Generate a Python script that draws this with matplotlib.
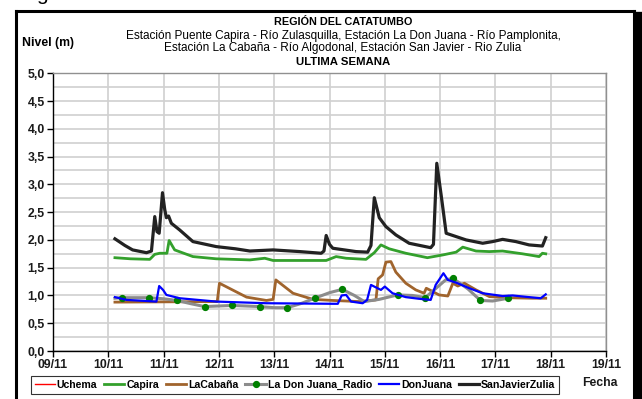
import matplotlib
matplotlib.use('Agg')
import matplotlib.pyplot as plt
from matplotlib.lines import Line2D
from matplotlib.ticker import MultipleLocator, FixedLocator

plt.rcParams['font.family'] = ['Liberation Sans', 'DejaVu Sans']

# days counted from 09/11
DAY_LABELS = ['09/11', '10/11', '11/11', '12/11', '13/11', '14/11',
              '15/11', '16/11', '17/11', '18/11', '19/11']
LEVEL_TICKS = [i * 0.5 for i in range(11)]

sanjavier_x = [1.12, 1.30, 1.44, 1.69, 1.78, 1.84, 1.88, 1.92, 1.98, 2.02,
               2.05, 2.09, 2.14, 2.29, 2.53, 2.95, 3.30, 3.56, 3.98, 4.46,
               4.85, 4.90, 4.94, 5.00, 5.06, 5.48, 5.69, 5.75, 5.81, 5.90,
               6.02, 6.20, 6.44, 6.83, 6.88, 6.94, 7.02, 7.11, 7.29, 7.47,
               7.77, 7.95, 8.13, 8.37, 8.61, 8.85, 8.91]
sanjavier_y = [2.02, 1.90, 1.82, 1.77, 1.80, 2.42, 2.15, 2.12, 2.85, 2.55,
               2.40, 2.43, 2.30, 2.18, 1.97, 1.88, 1.84, 1.80, 1.82, 1.79,
               1.76, 1.80, 2.08, 1.92, 1.85, 1.79, 1.78, 1.90, 2.76, 2.40,
               2.24, 2.09, 1.94, 1.86, 1.92, 3.38, 2.80, 2.12, 2.06, 2.00,
               1.94, 1.97, 2.01, 1.97, 1.91, 1.89, 2.04]

capira_x = [1.12, 1.40, 1.75, 1.84, 1.93, 2.06, 2.10, 2.20, 2.53, 2.95,
            3.56, 3.83, 3.98, 4.94, 5.12, 5.30, 5.66, 5.81, 5.93, 6.08,
            6.38, 6.77, 7.05, 7.29, 7.41, 7.65, 7.89, 8.13, 8.49, 8.79,
            8.85, 8.91]
capira_y = [1.68, 1.66, 1.65, 1.74, 1.76, 1.76, 1.99, 1.82, 1.70, 1.66,
            1.64, 1.67, 1.63, 1.63, 1.70, 1.67, 1.65, 1.77, 1.91, 1.84,
            1.76, 1.68, 1.73, 1.78, 1.87, 1.80, 1.79, 1.80, 1.75, 1.70,
            1.76, 1.75]

cabana_x = [1.12, 2.97, 3.01, 3.50, 3.86, 3.98, 4.03, 4.34, 4.70, 5.06,
            5.54, 5.84, 5.88, 5.96, 6.02, 6.11, 6.20, 6.38, 6.56, 6.71,
            6.75, 6.83, 6.98, 7.14, 7.23, 7.32, 7.44, 7.65, 7.89, 8.19,
            8.67, 8.91]
cabana_y = [0.88, 0.89, 1.22, 0.97, 0.91, 0.93, 1.28, 1.04, 0.93, 0.91,
            0.89, 0.92, 1.30, 1.37, 1.60, 1.61, 1.42, 1.22, 1.10, 1.04,
            1.13, 1.09, 1.01, 0.99, 1.22, 1.17, 1.22, 1.10, 0.98, 0.96,
            0.95, 0.95]

donjuana_x = [1.12, 1.33, 1.87, 1.92, 1.99, 2.05, 2.29, 2.95, 3.86, 5.06,
              5.15, 5.22, 5.30, 5.39, 5.60, 5.68, 5.75, 5.93, 6.00, 6.14,
              6.38, 6.62, 6.83, 6.92, 7.06, 7.14, 7.29, 7.53, 7.77, 8.13,
              8.31, 8.61, 8.82, 8.91]
donjuana_y = [0.97, 0.92, 0.89, 1.17, 1.10, 1.01, 0.95, 0.89, 0.86, 0.85,
              0.85, 1.00, 1.01, 0.89, 0.86, 0.92, 1.19, 1.10, 1.16, 1.04,
              0.97, 0.94, 0.92, 1.19, 1.40, 1.28, 1.23, 1.13, 1.04, 0.99,
              1.00, 0.97, 0.95, 1.02]

# radio readings every 12 h, with the in-between curve points
radio_x = [1.12, 1.24, 1.74, 2.00, 2.24, 2.50, 2.74, 3.24, 3.74, 4.00,
           4.24, 4.50, 4.73, 5.00, 5.23, 5.45, 5.63, 5.90, 6.23, 6.50,
           6.73, 6.95, 7.10, 7.23, 7.50, 7.73, 7.95, 8.23]
radio_y = [0.95, 0.96, 0.96, 0.94, 0.91, 0.85, 0.80, 0.82, 0.80, 0.78,
           0.78, 0.86, 0.95, 1.05, 1.11, 1.00, 0.89, 0.93, 1.01, 1.00,
           0.96, 1.15, 1.28, 1.31, 1.12, 0.91, 0.90, 0.95]
radio_marks = [1, 2, 4, 6, 7, 8, 10, 12, 14, 18, 20, 23, 25, 27]

W, H = 642, 399
fig = plt.figure(figsize=(W / 100, H / 100), dpi=100)
ax = fig.add_axes([53 / W, 1 - 351 / H, 553 / W, 277.7 / H])

ax.plot([], [], color='#ff0000', lw=1.0, label='Uchema')
ax.plot(capira_x, capira_y, color='#33a02c', lw=2.0, label='Capira')
ax.plot(cabana_x, cabana_y, color='#a0642d', lw=2.0, label='LaCabaña')
ax.plot(radio_x, radio_y, color='#8c8c8c', lw=2.2, marker='o', ms=4.2,
        mfc='#008000', mec='#008000', markevery=radio_marks,
        label='La Don Juana_Radio')
ax.plot(donjuana_x, donjuana_y, color='#0000ff', lw=1.6, label='DonJuana')
ax.plot(sanjavier_x, sanjavier_y, color='#222222', lw=2.3,
        label='SanJavierZulia')

ax.set_xlim(0, 10)
ax.set_ylim(0, 5)
ax.xaxis.set_major_locator(FixedLocator(range(len(DAY_LABELS))))
ax.set_xticklabels(DAY_LABELS)
ax.yaxis.set_minor_locator(MultipleLocator(0.25))
ax.set_yticks(LEVEL_TICKS)
ax.set_yticklabels([f'{v:.1f}'.replace('.', ',') for v in LEVEL_TICKS])
ax.tick_params(axis='both', which='major', length=4, width=1, colors='black',
               labelsize=8.8, pad=2)
ax.tick_params(axis='y', which='minor', length=0)
for lab in ax.get_xticklabels() + ax.get_yticklabels():
    lab.set_fontweight('bold')
    lab.set_color('#1a1a1a')

ax.grid(which='both', axis='y', color='#d0d0d0', lw=1.2)
ax.grid(which='major', axis='x', color='#d0d0d0', lw=1.2)
ax.set_axisbelow(True)
for side in ['top', 'right']:
    ax.spines[side].set_color('#909090')
    ax.spines[side].set_linewidth(1.0)
for side in ['left', 'bottom']:
    ax.spines[side].set_color('black')
    ax.spines[side].set_linewidth(1.0)

# titles
cx = 343 / W
fig.text(cx, 1 - 22 / H, 'REGIÓN DEL CATATUMBO', ha='center', va='center',
         fontsize=7.8, fontweight='bold')
fig.text(cx, 1 - 35.5 / H,
         'Estación Puente Capira - Río Zulasquilla, Estación La Don Juana'
         ' - Río Pamplonita,', ha='center', va='center', fontsize=8.5)
fig.text(cx, 1 - 48.5 / H,
         'Estación La Cabaña - Río Algodonal, Estación San Javier - Rio Zulia',
         ha='center', va='center', fontsize=8.5)
fig.text(cx, 1 - 62 / H, 'ULTIMA SEMANA', ha='center', va='center',
         fontsize=8.2, fontweight='bold')
fig.text(22 / W, 1 - 43 / H, 'Nivel (m)', ha='left', va='center',
         fontsize=8.8, fontweight='bold')
fig.text(582 / W, 1 - 383 / H, 'Fecha', ha='left', va='center',
         fontsize=8.8, fontweight='bold', color='#1a1a1a')
fig.text(36 / W, 1.0, 'g', ha='left', va='baseline', fontsize=15)

leg = fig.legend(loc='center', bbox_to_anchor=(295 / W, 1 - 385 / H),
                 ncol=6, fontsize=7.6, frameon=True, fancybox=False,
                 handlelength=1.9, handletextpad=0.2, columnspacing=0.65,
                 borderpad=0.35)
leg.get_frame().set_edgecolor('black')
leg.get_frame().set_linewidth(0.8)
for t in leg.get_texts():
    t.set_fontweight('bold')

# outer chart border with a shadow on the right
for xs, ys in [((16, 16), (11, 400)), ((16, 634), (11, 11)),
               ((634, 634), (11, 400))]:
    fig.add_artist(Line2D([x / W for x in xs], [1 - y / H for y in ys],
                          color='black', lw=2.2, transform=fig.transFigure))
fig.add_artist(Line2D([639 / W, 639 / W], [1 - 16 / H, 0],
                      color='black', lw=6, transform=fig.transFigure))

fig.savefig('out.png', dpi=100)
